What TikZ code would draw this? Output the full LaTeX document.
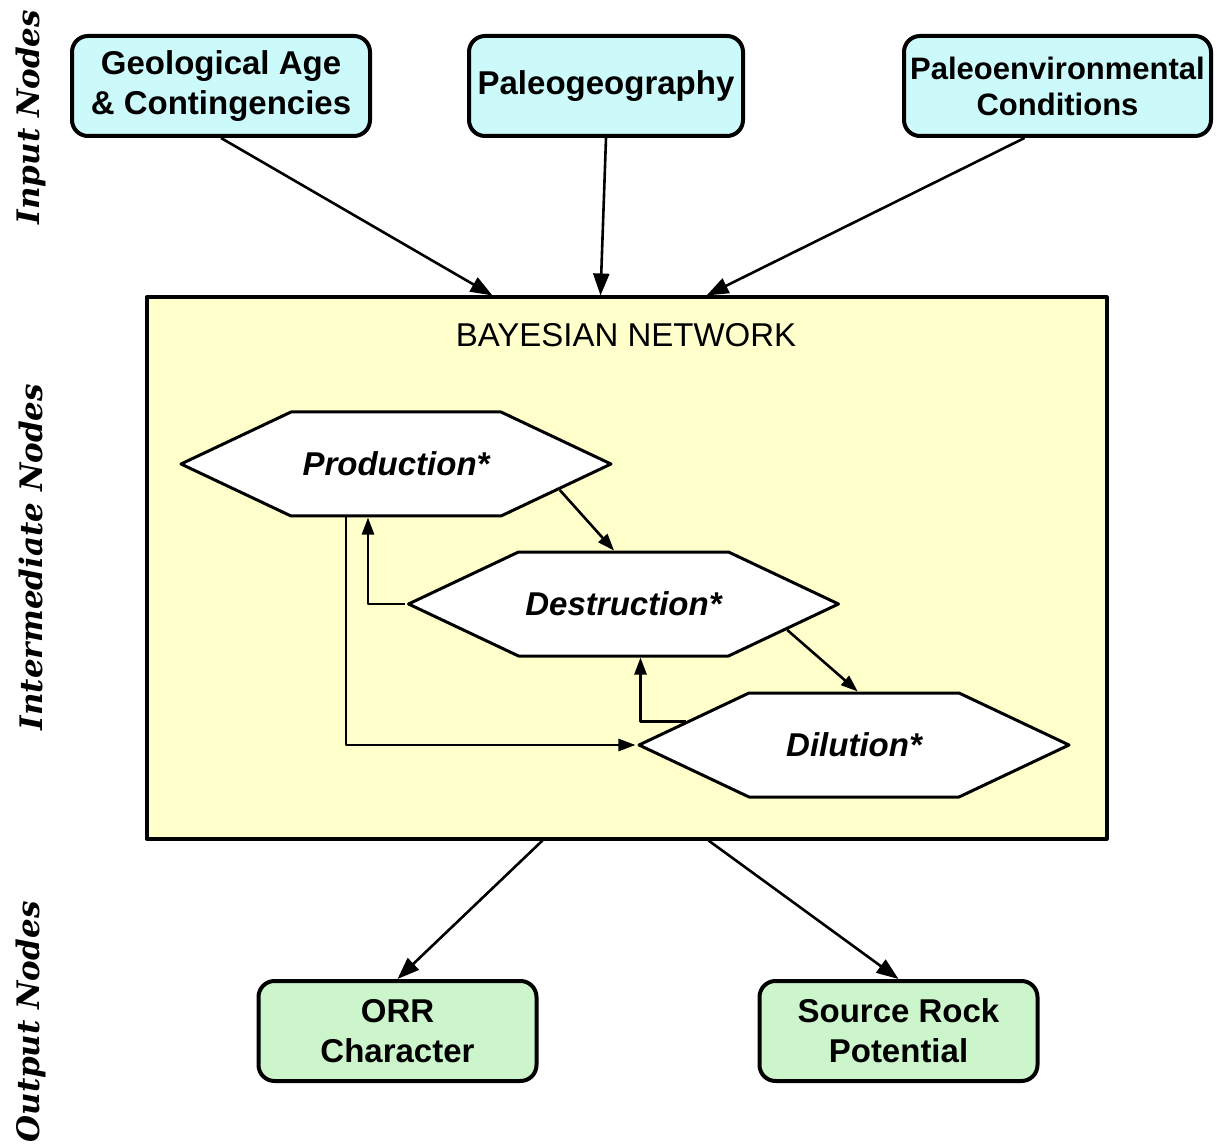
\documentclass[tikz,border=0pt]{standalone}
\usepackage{fontspec}
\setmainfont{Liberation Sans}
\newfontfamily\sidefont{DejaVu Serif}
\usetikzlibrary{positioning,shapes.symbols,arrows.meta}
\definecolor{inputcyan}{HTML}{CCFAFA}
\definecolor{outputgreen}{HTML}{CCF5CC}
\definecolor{netyellow}{HTML}{FFFFCC}

\begin{document}
\begin{tikzpicture}[x=1pt,y=-1pt,line join=round]
      \tikzstyle{every node}=[font=\fontsize{33}{40}\selectfont\bfseries,align=center]
      \tikzstyle{inbox}=[draw,rounded corners=16pt,line width=4pt,fill=inputcyan,minimum height=100pt,inner sep=2pt]
      \tikzstyle{outbox}=[inbox,fill=outputgreen,minimum width=278pt]
      \tikzstyle{hexa}=[draw,signal,signal to=east and west,signal pointer angle=50.6,fill=white,line width=3pt,
                        minimum width=430pt,minimum height=104pt,font=\fontsize{33}{40}\selectfont\bfseries\itshape]
      \tikzstyle{side}=[rotate=90,font=\fontsize{31}{37}\sidefont\bfseries\itshape]
      \tikzstyle{big}=[-{Triangle[length=22pt,width=16pt]},line width=2.6pt]
      \tikzstyle{small}=[-{Triangle[length=17pt,width=12pt]},line width=2.6pt]
      \useasboundingbox (0,0) rectangle (1219,1147);
      %
      \node [side] (lin)  at (31,117)  {Input Nodes};
      \node [side] (lmid) at (31,557)  {Intermediate Nodes};
      \node [side] (lout) at (31,1022) {Output Nodes};
      %
      \node [inbox,minimum width=298pt] (geo) at (221,86) {Geological Age\\\& Contingencies};
      \node [inbox,minimum width=274pt] (pgeo) [right=95pt of geo] {Paleogeography};
      \node [inbox,minimum width=307pt,font=\fontsize{31}{36}\selectfont\bfseries] (env) [right=157pt of pgeo] {Paleoenvironmental\\Conditions};
      %
      \node [draw,line width=4pt,fill=netyellow,minimum width=960pt,minimum height=541pt] (bn) at (626.5,568) {};
      \node [font=\fontsize{33}{40}\selectfont] (title) at (626,335) {BAYESIAN NETWORK};
      %
      \node [hexa] (prod) at (396,464)   {Production*};
      \node [hexa] (dest) at (623.5,604) {Destruction*};
      \node [hexa] (dil)  at (854,745)   {Dilution*};
      %
      \node [outbox] (orr) at (397.5,1031) {ORR\\Character};
      \node [outbox] (src) [right=219pt of orr] {Source Rock\\Potential};
      %
      \draw [big] (geo.south) -- ([xshift=-134pt]bn.north);
      \draw [big] (pgeo.south) -- ([xshift=-26pt]bn.north);
      \draw [big] ([xshift=-33pt]env.south) -- ([xshift=80pt]bn.north);
      \draw [big] ([xshift=-84pt]bn.south) -- (orr.north);
      \draw [big] ([xshift=82pt]bn.south) -- (src.north);
      %
      \draw [small] (prod.-9) -- (dest.100);
      \draw [small] (dest.-9) -- (dil.86);
      \draw [small] (dest.west) -| ([xshift=-28pt]prod.south);
      \draw [small] (dil.172) -| ([xshift=17pt]dest.south);
      \draw [small] ([xshift=-50pt]prod.south) |- (dil.west);
\end{tikzpicture}
\end{document}
